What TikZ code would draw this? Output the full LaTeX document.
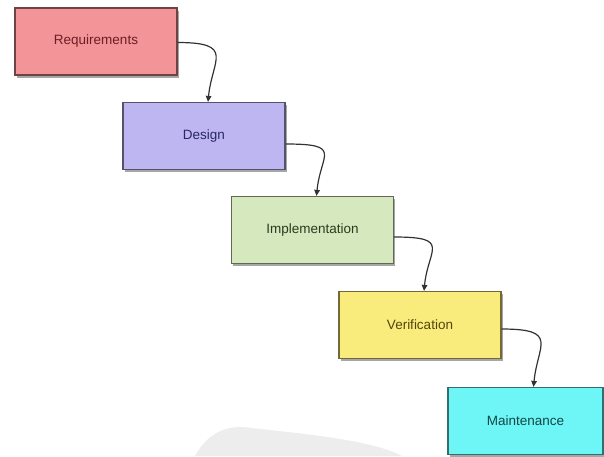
\documentclass[tikz,border=0pt]{standalone}
\usepackage{fontspec}
\setmainfont{Liberation Sans}
\usetikzlibrary{shadows,arrows.meta}
\definecolor{reqfill}{RGB}{242,148,152}
\definecolor{desfill}{RGB}{190,182,240}
\definecolor{impfill}{RGB}{214,232,190}
\definecolor{verfill}{RGB}{250,235,125}
\definecolor{mntfill}{RGB}{110,245,245}
\definecolor{reqtext}{RGB}{110,30,35}
\definecolor{destext}{RGB}{40,40,100}
\definecolor{imptext}{RGB}{40,60,30}
\definecolor{vertext}{RGB}{80,70,10}
\definecolor{mnttext}{RGB}{20,70,70}
\definecolor{linecol}{RGB}{50,50,50}
\tikzset{
  phase/.style={draw=#1!45!black, fill=#1, line width=1.2pt, minimum width=162pt, minimum height=67pt,
    inner sep=0pt, drop shadow={shadow xshift=1.5pt, shadow yshift=-2.5pt, opacity=0.35, fill=black},
    font=\fontsize{13.5}{16}\selectfont},
  flow/.style={draw=linecol, line width=1.2pt, -{Triangle[length=6pt,width=5.5pt]}}
}
\begin{document}
\begin{tikzpicture}[x=1pt,y=-1pt]
\useasboundingbox (0,0) rectangle (604,456);
\fill[gray!14] (195,456) .. controls (208,432) and (228,424) .. (252,428) .. controls (305,434) and (372,440) .. (402,456) -- cycle;
\node[phase=reqfill, text=reqtext] (R) at (96,41.5) {Requirements};
\node[phase=desfill, text=destext] (D) at (204,136) {Design};
\node[phase=impfill, text=imptext] (I) at (312.5,230) {Implementation};
\node[phase=verfill, text=vertext] (V) at (420,325) {Verification};
\node[phase=mntfill, text=mnttext, minimum width=155pt] (M) at (525.5,421) {Maintenance};
\draw[flow] ([yshift=-1pt]R.east) .. controls +(58,0) and +(4,-42) .. ([xshift=4pt]D.north);
\draw[flow] ([yshift=-8pt]D.east) .. controls +(58,0) and +(4,-42) .. ([xshift=4pt]I.north);
\draw[flow] ([yshift=-7pt]I.east) .. controls +(58,0) and +(4,-42) .. ([xshift=4pt]V.north);
\draw[flow] ([yshift=-4pt]V.east) .. controls +(58,0) and +(4,-42) .. ([xshift=8pt]M.north);
\end{tikzpicture}
\end{document}
